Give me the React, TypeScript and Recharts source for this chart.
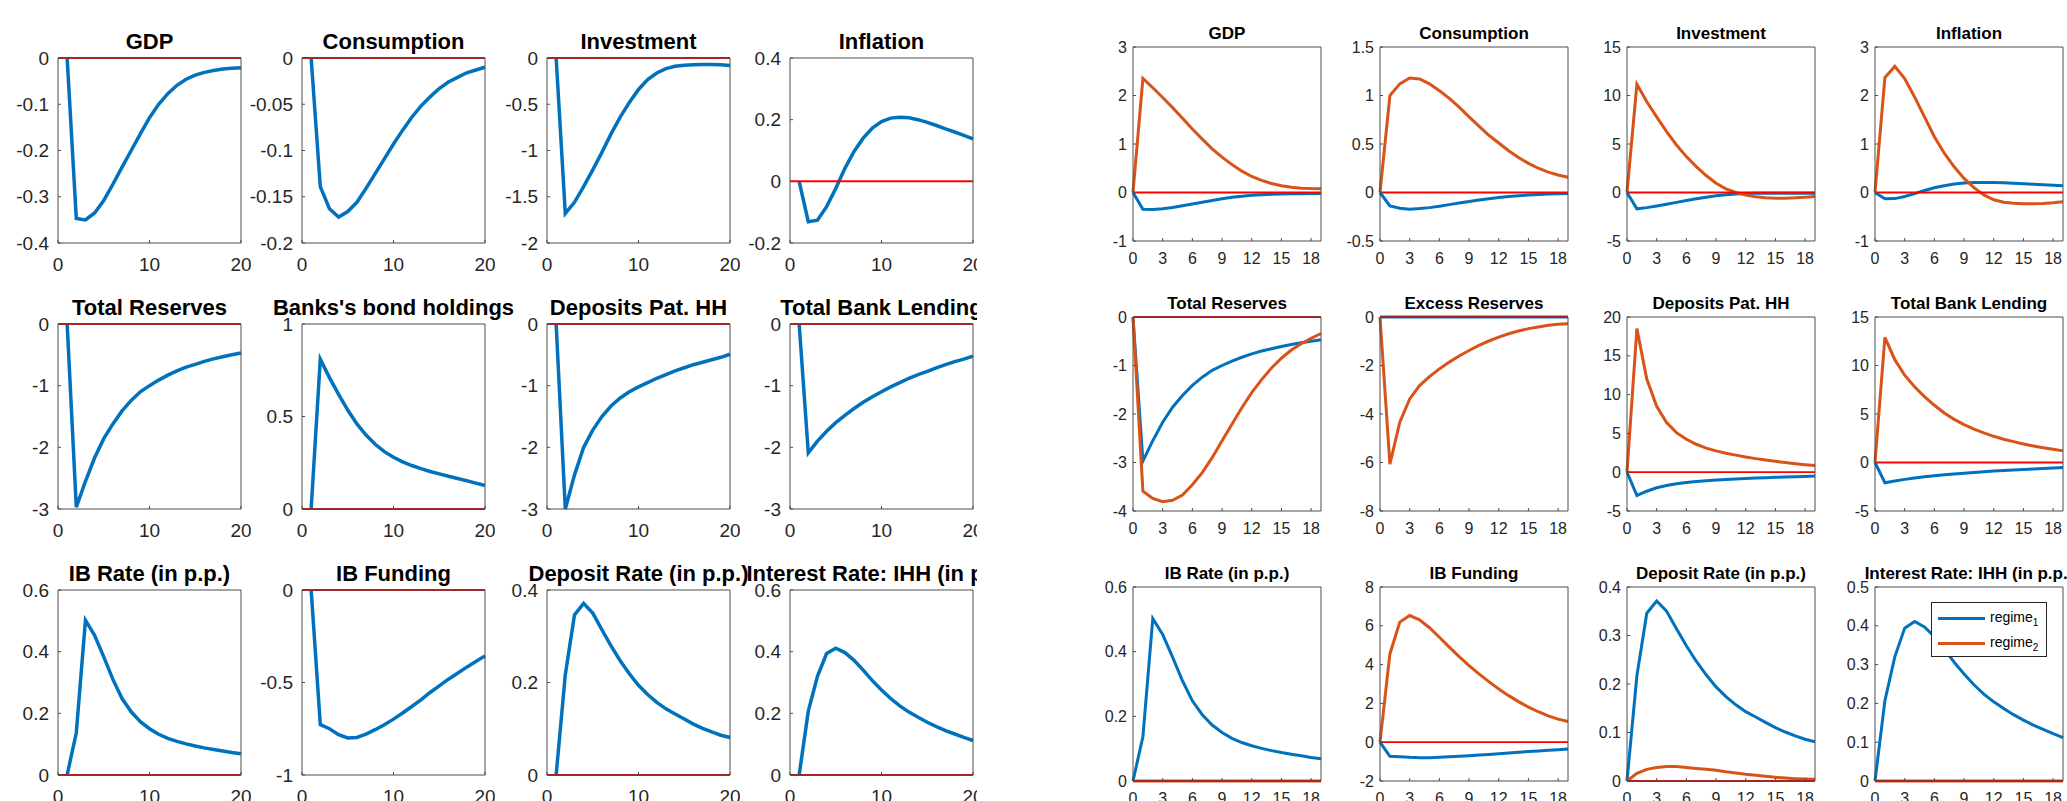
import React from 'react';
import { LineChart, Line, XAxis, YAxis, ReferenceLine } from 'recharts';

// horizons: right-hand figure starts at 0, left-hand figure at 1
const periods = [0, 1, 2, 3, 4, 5, 6, 7, 8, 9, 10, 11, 12, 13, 14, 15, 16, 17, 18, 19];
const horizon = [1, 2, 3, 4, 5, 6, 7, 8, 9, 10, 11, 12, 13, 14, 15, 16, 17, 18, 19, 20];

const leftXTicks = [0, 10, 20];
const rightXTicks = [0, 3, 6, 9, 12, 15, 18];

// regime 1 (blue) and regime 2 (orange) responses
const gdp1 = [0, -0.347, -0.35, -0.335, -0.308, -0.273, -0.236, -0.2, -0.164, -0.129, -0.1, -0.077, -0.059, -0.046, -0.037, -0.031, -0.027, -0.024, -0.022, -0.021];
const gdp2 = [0, 2.35, 2.16, 1.96, 1.75, 1.53, 1.31, 1.1, 0.9, 0.73, 0.575, 0.44, 0.33, 0.25, 0.185, 0.14, 0.11, 0.09, 0.08, 0.075];
const cons1 = [0, -0.139, -0.163, -0.172, -0.166, -0.156, -0.141, -0.125, -0.109, -0.093, -0.078, -0.064, -0.052, -0.042, -0.033, -0.026, -0.021, -0.016, -0.013, -0.01];
const cons2 = [0, 1.0, 1.12, 1.18, 1.17, 1.12, 1.05, 0.97, 0.88, 0.78, 0.685, 0.59, 0.51, 0.43, 0.36, 0.3, 0.25, 0.21, 0.18, 0.158];
const inv1 = [0, -1.68, -1.56, -1.39, -1.21, -1.02, -0.82, -0.64, -0.48, -0.34, -0.234, -0.162, -0.115, -0.09, -0.079, -0.072, -0.07, -0.07, -0.074, -0.08];
const inv2 = [0, 11.16, 9.35, 7.8, 6.27, 4.9, 3.7, 2.67, 1.75, 0.96, 0.38, 0, -0.27, -0.45, -0.55, -0.58, -0.58, -0.55, -0.48, -0.41];
const infl1 = [0, -0.131, -0.126, -0.082, -0.023, 0.042, 0.097, 0.14, 0.173, 0.194, 0.205, 0.208, 0.206, 0.2, 0.191, 0.181, 0.17, 0.16, 0.149, 0.138];
const infl2 = [0, 2.37, 2.6, 2.35, 1.97, 1.56, 1.15, 0.81, 0.53, 0.29, 0.1, -0.05, -0.15, -0.2, -0.22, -0.23, -0.23, -0.225, -0.21, -0.19];
const res1 = [0, -2.97, -2.55, -2.17, -1.86, -1.62, -1.41, -1.24, -1.1, -1.0, -0.91, -0.83, -0.76, -0.7, -0.655, -0.607, -0.566, -0.53, -0.5, -0.47];
const res2 = [0, -3.59, -3.74, -3.81, -3.78, -3.67, -3.46, -3.21, -2.9, -2.55, -2.21, -1.87, -1.56, -1.29, -1.05, -0.85, -0.68, -0.55, -0.44, -0.34];
const excess1 = [0, 0, 0, 0, 0, 0, 0, 0, 0, 0, 0, 0, 0, 0, 0, 0, 0, 0, 0, 0];
const excess2 = [0, -6.07, -4.34, -3.38, -2.83, -2.46, -2.14, -1.86, -1.61, -1.38, -1.17, -0.99, -0.83, -0.69, -0.58, -0.48, -0.41, -0.34, -0.3, -0.28];
const bonds1 = [0, 0.81, 0.71, 0.62, 0.535, 0.46, 0.4, 0.35, 0.31, 0.28, 0.255, 0.235, 0.218, 0.203, 0.19, 0.177, 0.165, 0.153, 0.14, 0.127];
const dep1 = [0, -3.0, -2.45, -2.0, -1.72, -1.5, -1.33, -1.2, -1.1, -1.02, -0.95, -0.88, -0.82, -0.76, -0.71, -0.66, -0.62, -0.58, -0.54, -0.49];
const dep2 = [0, 18.5, 12.0, 8.5, 6.4, 5.1, 4.25, 3.6, 3.1, 2.75, 2.45, 2.2, 1.95, 1.75, 1.57, 1.4, 1.25, 1.1, 0.97, 0.85];
const lend1 = [0, -2.09, -1.9, -1.74, -1.6, -1.48, -1.37, -1.27, -1.18, -1.1, -1.02, -0.95, -0.88, -0.82, -0.77, -0.71, -0.66, -0.61, -0.57, -0.52];
const lend2 = [0, 12.9, 10.6, 9.0, 7.8, 6.8, 5.9, 5.1, 4.45, 3.9, 3.45, 3.05, 2.7, 2.4, 2.15, 1.9, 1.7, 1.52, 1.36, 1.2];
const ib1 = [0, 0.137, 0.502, 0.453, 0.383, 0.31, 0.248, 0.205, 0.173, 0.15, 0.132, 0.119, 0.109, 0.101, 0.094, 0.088, 0.083, 0.078, 0.073, 0.069];
const ib2 = [0, 0, 0, 0, 0, 0, 0, 0, 0, 0, 0, 0, 0, 0, 0, 0, 0, 0, 0, 0];
const fund1 = [0, -0.728, -0.75, -0.782, -0.8, -0.797, -0.779, -0.755, -0.728, -0.698, -0.665, -0.63, -0.594, -0.554, -0.518, -0.482, -0.45, -0.417, -0.387, -0.356];
const fund2 = [0, 4.55, 6.19, 6.53, 6.31, 5.9, 5.41, 4.9, 4.41, 3.95, 3.52, 3.12, 2.74, 2.4, 2.09, 1.81, 1.57, 1.36, 1.19, 1.07];
const drate1 = [0, 0.217, 0.346, 0.371, 0.35, 0.314, 0.279, 0.247, 0.219, 0.194, 0.174, 0.157, 0.143, 0.132, 0.121, 0.11, 0.101, 0.093, 0.086, 0.081];
const drate2 = [0, 0.016, 0.024, 0.028, 0.0297, 0.0297, 0.028, 0.026, 0.024, 0.022, 0.019, 0.0166, 0.0138, 0.0117, 0.0097, 0.0076, 0.006, 0.0048, 0.004, 0.0034];
const ihh1 = [0, 0.207, 0.32, 0.394, 0.411, 0.397, 0.372, 0.34, 0.306, 0.276, 0.248, 0.224, 0.204, 0.187, 0.171, 0.157, 0.144, 0.133, 0.122, 0.112];
const ihh2 = [0, 0, 0, 0, 0, 0, 0, 0, 0, 0, 0, 0, 0, 0, 0, 0, 0, 0, 0, 0];

const BLUE = '#0072BD';
const ORANGE = '#D95319';
const ZERO = '#FF0000';
const AXIS = '#4d4d4d';
const TEXT = '#262626';
const TICK = 3;

interface PanelSpec {
  title: string;
  s1: number[];
  s2?: number[];
  domain: [number, number];
  ticks: number[];
}

const leftPanels: PanelSpec[] = [
  { title: 'GDP', s1: gdp1, domain: [-0.4, 0], ticks: [-0.4, -0.3, -0.2, -0.1, 0] },
  { title: 'Consumption', s1: cons1, domain: [-0.2, 0], ticks: [-0.2, -0.15, -0.1, -0.05, 0] },
  { title: 'Investment', s1: inv1, domain: [-2, 0], ticks: [-2, -1.5, -1, -0.5, 0] },
  { title: 'Inflation', s1: infl1, domain: [-0.2, 0.4], ticks: [-0.2, 0, 0.2, 0.4] },
  { title: 'Total Reserves', s1: res1, domain: [-3, 0], ticks: [-3, -2, -1, 0] },
  { title: "Banks's bond holdings", s1: bonds1, domain: [0, 1], ticks: [0, 0.5, 1] },
  { title: 'Deposits Pat. HH', s1: dep1, domain: [-3, 0], ticks: [-3, -2, -1, 0] },
  { title: 'Total Bank Lending', s1: lend1, domain: [-3, 0], ticks: [-3, -2, -1, 0] },
  { title: 'IB Rate (in p.p.)', s1: ib1, domain: [0, 0.6], ticks: [0, 0.2, 0.4, 0.6] },
  { title: 'IB Funding', s1: fund1, domain: [-1, 0], ticks: [-1, -0.5, 0] },
  { title: 'Deposit Rate (in p.p.)', s1: drate1, domain: [0, 0.4], ticks: [0, 0.2, 0.4] },
  { title: 'Interest Rate: IHH (in p.p.)', s1: ihh1, domain: [0, 0.6], ticks: [0, 0.2, 0.4, 0.6] },
];

const rightPanels: PanelSpec[] = [
  { title: 'GDP', s1: gdp1, s2: gdp2, domain: [-1, 3], ticks: [-1, 0, 1, 2, 3] },
  { title: 'Consumption', s1: cons1, s2: cons2, domain: [-0.5, 1.5], ticks: [-0.5, 0, 0.5, 1, 1.5] },
  { title: 'Investment', s1: inv1, s2: inv2, domain: [-5, 15], ticks: [-5, 0, 5, 10, 15] },
  { title: 'Inflation', s1: infl1, s2: infl2, domain: [-1, 3], ticks: [-1, 0, 1, 2, 3] },
  { title: 'Total Reserves', s1: res1, s2: res2, domain: [-4, 0], ticks: [-4, -3, -2, -1, 0] },
  { title: 'Excess Reserves', s1: excess1, s2: excess2, domain: [-8, 0], ticks: [-8, -6, -4, -2, 0] },
  { title: 'Deposits Pat. HH', s1: dep1, s2: dep2, domain: [-5, 20], ticks: [-5, 0, 5, 10, 15, 20] },
  { title: 'Total Bank Lending', s1: lend1, s2: lend2, domain: [-5, 15], ticks: [-5, 0, 5, 10, 15] },
  { title: 'IB Rate (in p.p.)', s1: ib1, s2: ib2, domain: [0, 0.6], ticks: [0, 0.2, 0.4, 0.6] },
  { title: 'IB Funding', s1: fund1, s2: fund2, domain: [-2, 8], ticks: [-2, 0, 2, 4, 6, 8] },
  { title: 'Deposit Rate (in p.p.)', s1: drate1, s2: drate2, domain: [0, 0.4], ticks: [0, 0.1, 0.2, 0.3, 0.4] },
  { title: 'Interest Rate: IHH (in p.p.)', s1: ihh1, s2: ihh2, domain: [0, 0.5], ticks: [0, 0.1, 0.2, 0.3, 0.4, 0.5] },
];

const legendItems = [
  { label: 'regime', sub: '1', color: BLUE },
  { label: 'regime', sub: '2', color: ORANGE },
];

interface Look {
  w: number;
  h: number;
  yw: number;
  xh: number;
  yGap: number;
  xGap: number;
  font: number;
  titleFont: number;
  titleOff: number;
  line: number;
  zero: number;
}

const leftLook: Look = { w: 183, h: 185, yw: 62, xh: 40, yGap: 9, xGap: 15, font: 19, titleFont: 22, titleOff: 27, line: 3.5, zero: 2 };
const rightLook: Look = { w: 188, h: 194, yw: 50, xh: 30, yGap: 6, xGap: 12, font: 16, titleFont: 17, titleOff: 22, line: 3, zero: 1.8 };

interface SubplotProps {
  spec: PanelSpec;
  x: number;
  y: number;
  look: Look;
  xs: number[];
  xDomain: [number, number];
  xTicks: number[];
}

function Subplot({ spec, x, y, look, xs, xDomain, xTicks }: SubplotProps) {
  const data = xs.map((t, i) => ({ t, r1: spec.s1[i], r2: spec.s2 ? spec.s2[i] : null }));
  // the top / right axes take 1px each, so the outer margins are 1px smaller
  const mt = 9;
  const mr = 9;
  const tickFont = { fontSize: look.font, fill: TEXT };
  return (
    <>
      <div
        style={{
          position: 'absolute',
          left: x + look.w / 2,
          top: y - look.titleOff,
          transform: 'translateX(-50%)',
          fontSize: look.titleFont,
          fontWeight: 'bold',
          lineHeight: 1,
          whiteSpace: 'nowrap',
          color: '#000',
        }}
      >
        {spec.title}
      </div>
      <div style={{ position: 'absolute', left: x - look.yw, top: y - mt - 1 }}>
        <LineChart
          width={look.yw + look.w + 1 + mr}
          height={mt + 1 + look.h + look.xh}
          data={data}
          margin={{ top: mt, right: mr, bottom: 0, left: 0 }}
        >
          <XAxis
            dataKey="t"
            type="number"
            domain={xDomain}
            ticks={xTicks}
            interval={0}
            height={look.xh}
            tickSize={-TICK}
            tickMargin={look.xGap + TICK}
            tick={tickFont}
            stroke={AXIS}
          />
          <XAxis
            xAxisId="top"
            orientation="top"
            dataKey="t"
            type="number"
            domain={xDomain}
            ticks={xTicks}
            interval={0}
            height={1}
            tickSize={-TICK}
            tick={false}
            stroke={AXIS}
          />
          <YAxis
            type="number"
            domain={spec.domain}
            ticks={spec.ticks}
            interval={0}
            width={look.yw}
            tickSize={-TICK}
            tickMargin={look.yGap + TICK}
            tick={tickFont}
            stroke={AXIS}
          />
          <YAxis
            yAxisId="right"
            orientation="right"
            type="number"
            domain={spec.domain}
            ticks={spec.ticks}
            interval={0}
            width={1}
            tickSize={-TICK}
            tick={false}
            stroke={AXIS}
          />
          {/* invisible copy bound to the top/right axes so that they are drawn */}
          <Line
            xAxisId="top"
            yAxisId="right"
            dataKey="r1"
            type="linear"
            stroke="none"
            dot={false}
            legendType="none"
            isAnimationActive={false}
          />
          <Line
            dataKey="r1"
            type="linear"
            stroke={BLUE}
            strokeWidth={look.line}
            dot={false}
            isAnimationActive={false}
          />
          {spec.s2 && (
            <Line
              dataKey="r2"
              type="linear"
              stroke={ORANGE}
              strokeWidth={look.line}
              dot={false}
              isAnimationActive={false}
            />
          )}
          <ReferenceLine y={0} stroke={ZERO} strokeWidth={look.zero} />
        </LineChart>
      </div>
    </>
  );
}

function RegimeLegend() {
  return (
    <div
      style={{
        position: 'absolute',
        left: 1931,
        top: 602,
        width: 114,
        height: 53,
        border: '1px solid #262626',
        background: '#fff',
        fontSize: 14,
        color: '#000',
      }}
    >
      {legendItems.map((item, i) => (
        <div
          key={item.sub}
          style={{ position: 'absolute', left: 6, top: 5 + i * 25, height: 20, display: 'flex', alignItems: 'center' }}
        >
          <div style={{ width: 47, height: 3, background: item.color, marginRight: 5 }} />
          <span>
            {item.label}
            <sub style={{ fontSize: 10 }}>{item.sub}</sub>
          </span>
        </div>
      ))}
    </div>
  );
}

const leftCols = [58, 302, 547, 790];
const leftRows = [58, 324, 590];
const rightCols = [1133, 1380, 1627, 1875];
const rightRows = [47, 317, 587];

export default function App() {
  return (
    <div
      style={{
        position: 'absolute',
        left: 0,
        top: 0,
        width: 2067,
        height: 801,
        overflow: 'hidden',
        background: '#fff',
        fontFamily: '"Liberation Sans", Arial, sans-serif',
      }}
    >
      <div style={{ position: 'absolute', left: 0, top: 0, width: 977, height: 801, overflow: 'hidden' }}>
        {leftPanels.map((spec, i) => (
          <Subplot
            key={'l' + i}
            spec={spec}
            x={leftCols[i % 4]}
            y={leftRows[Math.floor(i / 4)]}
            look={leftLook}
            xs={horizon}
            xDomain={[0, 20]}
            xTicks={leftXTicks}
          />
        ))}
      </div>
      {rightPanels.map((spec, i) => (
        <Subplot
          key={'r' + i}
          spec={spec}
          x={rightCols[i % 4]}
          y={rightRows[Math.floor(i / 4)]}
          look={rightLook}
          xs={periods}
          xDomain={[0, 19]}
          xTicks={rightXTicks}
        />
      ))}
      <RegimeLegend />
    </div>
  );
}
